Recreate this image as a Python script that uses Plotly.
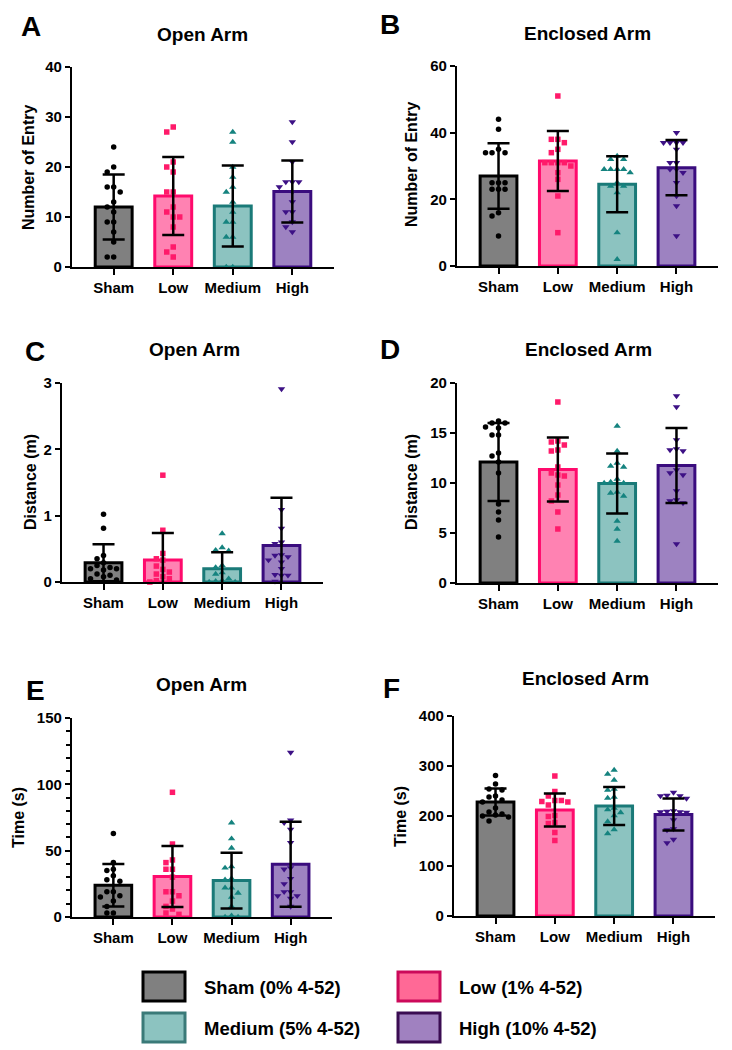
import plotly.graph_objects as go

W, H = 732, 1050
groups = ["Sham", "Low", "Medium", "High"]

# ---- Panel A: Open Arm, Number of Entry ----
a_sham = [24, 20, 19, 16, 16, 15, 13, 12, 11, 9, 9, 7, 5, 2, 2]
a_low = [28, 27, 21, 20, 19, 15, 15, 12, 11, 10, 10, 8, 4, 3, 2]
a_medium = [27, 25, 20, 18, 16, 15, 13, 11, 9, 9, 6, 6, 0, 0]
a_high = [29, 25, 21, 17, 17, 17, 16, 15, 13, 11, 11, 9, 8, 7]
a_mean = [12.0, 14.2, 12.2, 15.1]
a_sd = [6.5, 7.8, 8.1, 6.2]

# ---- Panel B: Enclosed Arm, Number of Entry ----
b_sham = [44, 41, 35, 34, 34, 34, 25, 25, 25, 23, 23, 23, 16, 15, 9]
b_low = [51, 38, 38, 37, 35, 34, 31, 31, 31, 31, 30, 28, 26, 21, 10]
b_medium = [33, 32, 32, 29, 29, 29, 29, 28, 25, 24, 24, 22, 10, 2]
b_high = [40, 37, 37, 37, 37, 35, 31, 31, 29, 29, 28, 25, 21, 18, 9]
b_mean = [27.0, 31.5, 24.5, 29.5]
b_sd = [9.8, 9.0, 8.4, 8.3]

# ---- Panel C: Open Arm, Distance (m) ----
c_sham = [1.02, 0.81, 0.40, 0.35, 0.29, 0.25, 0.22, 0.20, 0.20, 0.18, 0.12, 0.10, 0.08, 0.05, 0.03]
c_low = [1.61, 0.78, 0.43, 0.35, 0.33, 0.24, 0.19, 0.15, 0.12, 0.08, 0.05, 0.02, 0.0]
c_medium = [0.73, 0.52, 0.48, 0.47, 0.25, 0.22, 0.14, 0.12, 0.05, 0.02, 0.01, 0.0, 0.0]
c_high = [2.91, 1.09, 0.81, 0.60, 0.58, 0.41, 0.40, 0.38, 0.33, 0.30, 0.20, 0.11, 0.10, 0.10, 0.01]
c_mean = [0.29, 0.33, 0.20, 0.55]
c_sd = [0.28, 0.41, 0.25, 0.72]

# ---- Panel D: Enclosed Arm, Distance (m) ----
d_sham = [16.2, 16.0, 16.0, 15.6, 15.5, 14.8, 14.8, 13.0, 12.7, 12.1, 11.0, 7.9, 7.1, 6.3, 4.6]
d_low = [18.1, 14.2, 14.1, 13.8, 13.3, 13.2, 11.6, 11.0, 10.8, 10.7, 9.8, 8.8, 8.2, 7.1, 5.4]
d_medium = [15.7, 13.2, 12.0, 11.7, 11.6, 10.4, 10.1, 10.0, 10.0, 9.1, 9.0, 8.7, 6.2, 5.4, 4.2]
d_high = [18.7, 17.6, 14.3, 13.4, 13.3, 13.2, 11.3, 11.0, 10.8, 9.2, 8.3, 8.2, 8.0, 3.9]
d_mean = [12.1, 11.35, 9.95, 11.75]
d_sd = [3.9, 3.2, 3.0, 3.75]

# ---- Panel E: Open Arm, Time (s) ----
e_sham = [63, 41, 36, 35, 31, 28, 27, 19, 19, 16, 15, 12, 8, 3, 3]
e_low = [94, 55, 43, 41, 36, 36, 30, 19, 19, 16, 12, 8, 6, 3, 2]
e_medium = [71, 59, 52, 38, 37, 29, 28, 22, 22, 18, 15, 8, 1, 0, 0]
e_high = [124, 73, 71, 66, 56, 37, 36, 29, 25, 19, 19, 16, 16, 14, 8]
e_mean = [24.0, 30.5, 27.5, 39.8]
e_sd = [16.0, 23.0, 21.0, 32.0]

# ---- Panel F: Enclosed Arm, Time (s) ----
f_sham = [281, 264, 254, 252, 240, 238, 232, 228, 216, 208, 204, 202, 200, 198, 190]
f_low = [280, 249, 240, 231, 231, 229, 228, 222, 201, 199, 187, 185, 167, 151]
f_medium = [292, 284, 272, 254, 252, 238, 236, 216, 213, 207, 201, 189, 173, 165]
f_high = [247, 241, 240, 240, 235, 210, 209, 208, 208, 207, 192, 174, 172, 153, 146]
f_mean = [228.0, 212.0, 220.0, 203.0]
f_sd = [27.0, 33.0, 38.0, 32.0]

legend_labels = ["Sham (0% 4-52)", "Low (1% 4-52)", "Medium (5% 4-52)", "High (10% 4-52)"]

# ---- styles ----
FONT = "Liberation Sans, Arial, Helvetica, sans-serif"
FILL = ["#808080", "#ff82b2", "#8cc3c0", "#9d82c1"]
EDGE = ["#000000", "#ff0a6c", "#1a7a78", "#3a0c7e"]
MCOL = ["#000000", "#ff1a6a", "#15837f", "#3d1185"]
SYM = ["circle", "square", "triangle-up", "triangle-down"]
MSIZE = [5.5, 5.5, 6.5, 6.5]
LEG_FILL = ["#808080", "#ff6996", "#8cc3c0", "#a081c0"]
LEG_EDGE = ["#000000", "#cc0a5a", "#3a7a78", "#3a0c52"]

panels = [
    dict(letter="A", title="Open Arm", ytitle="Number of Entry",
         pts=[a_sham, a_low, a_medium, a_high], mean=a_mean, sd=a_sd,
         box=(72, 67, 334, 267), yr=40, dt=10, minor=None,
         lpos=(31, 26), tpos=(203, 35), ytpos=(28, 168)),
    dict(letter="B", title="Enclosed Arm", ytitle="Number of Entry",
         pts=[b_sham, b_low, b_medium, b_high], mean=b_mean, sd=b_sd,
         box=(457, 66, 718, 266), yr=60, dt=20, minor=None,
         lpos=(390, 24), tpos=(587, 33), ytpos=(411, 165)),
    dict(letter="C", title="Open Arm", ytitle="Distance (m)",
         pts=[c_sham, c_low, c_medium, c_high], mean=c_mean, sd=c_sd,
         box=(62, 383, 323, 582), yr=3, dt=1, minor=None,
         lpos=(35, 351), tpos=(194, 350), ytpos=(30, 482)),
    dict(letter="D", title="Enclosed Arm", ytitle="Distance (m)",
         pts=[d_sham, d_low, d_medium, d_high], mean=d_mean, sd=d_sd,
         box=(457, 383, 718, 583), yr=20, dt=5, minor=None,
         lpos=(390, 350), tpos=(588, 350), ytpos=(411, 482)),
    dict(letter="E", title="Open Arm", ytitle="Time (s)",
         pts=[e_sham, e_low, e_medium, e_high], mean=e_mean, sd=e_sd,
         box=(72, 718, 332, 917), yr=150, dt=50, minor=10,
         lpos=(35, 690), tpos=(202, 684), ytpos=(18, 818)),
    dict(letter="F", title="Enclosed Arm", ytitle="Time (s)",
         pts=[f_sham, f_low, f_medium, f_high], mean=f_mean, sd=f_sd,
         box=(454, 716, 715, 916), yr=400, dt=100, minor=None,
         lpos=(391, 688), tpos=(585, 679), ytpos=(400, 817)),
]

XR = (-0.7, 3.7)


def swarm(vals, xs, ys, d=6.5):
    """Horizontal offsets (in data units) so markers do not overlap."""
    placed = []
    order = sorted(range(len(vals)), key=lambda i: -vals[i])
    res = [0.0] * len(vals)
    cand_list = [0]
    for j in range(1, 12):
        cand_list += [-j, j]
    for i in order:
        py = vals[i] * ys
        for c in cand_list:
            px = c * d
            ok = True
            for (qx, qy) in placed:
                if abs(qx - px) < d and abs(qy - py) < d:
                    ok = False
                    break
            if ok:
                placed.append((px, py))
                res[i] = px / xs
                break
    return res


def px2paper(x, y):
    return x / W, 1 - y / H


fig = go.Figure()
layout = dict(
    width=W, height=H, margin=dict(l=0, r=0, t=0, b=0, autoexpand=False),
    paper_bgcolor="white", plot_bgcolor="white", showlegend=False,
    font=dict(family=FONT, color="black"),
)
annotations = []
shapes = []

for i, p in enumerate(panels):
    n = i + 1
    sfx = "" if n == 1 else str(n)
    xa, ya = "x" + sfx, "y" + sfx
    x0, y0, x1, y1 = p["box"]
    xs = (x1 - x0) / (XR[1] - XR[0])
    ys = (y1 - y0) / p["yr"]

    fig.add_trace(go.Bar(
        x=[0, 1, 2, 3], y=p["mean"], width=0.62,
        marker=dict(color=FILL, line=dict(color=EDGE, width=3)),
        xaxis=xa, yaxis=ya, hoverinfo="skip"))

    for g in range(4):
        vals = p["pts"][g]
        offs = swarm(vals, xs, ys)
        fig.add_trace(go.Scatter(
            x=[g + o for o in offs], y=vals, mode="markers",
            marker=dict(symbol=SYM[g], size=MSIZE[g], color=MCOL[g], line=dict(width=0)),
            xaxis=xa, yaxis=ya, hoverinfo="skip", cliponaxis=False))

    fig.add_trace(go.Scatter(
        x=[0, 1, 2, 3], y=p["mean"], mode="markers",
        marker=dict(size=1, opacity=0),
        error_y=dict(type="data", array=p["sd"], symmetric=True,
                     color="black", thickness=2.5, width=11),
        xaxis=xa, yaxis=ya, hoverinfo="skip"))

    layout["xaxis" + sfx] = dict(
        domain=[x0 / W, x1 / W], anchor=ya, range=list(XR), automargin=False,
        tickmode="array", tickvals=[0, 1, 2, 3], ticktext=groups,
        ticks="outside", ticklen=6, tickwidth=2, tickcolor="black",
        showline=True, linecolor="black", linewidth=2.2,
        showgrid=False, zeroline=False,
        tickfont=dict(family=FONT, size=15, color="black", weight="bold"),
        fixedrange=True)
    yax = dict(
        domain=[1 - y1 / H, 1 - y0 / H], anchor=xa, range=[0, p["yr"]], automargin=False,
        tickmode="linear", tick0=0, dtick=p["dt"],
        ticks="outside", ticklen=5, tickwidth=2, tickcolor="black",
        showline=True, linecolor="black", linewidth=2.2,
        showgrid=False, zeroline=False,
        tickfont=dict(family=FONT, size=15, color="black", weight="bold"),
        fixedrange=True)
    if p["minor"]:
        yax["minor"] = dict(dtick=p["minor"], ticks="outside", ticklen=4,
                            tickwidth=2, tickcolor="black", showgrid=False)
    layout["yaxis" + sfx] = yax

    lx, ly = px2paper(*p["lpos"])
    annotations.append(dict(text=p["letter"], x=lx, y=ly, xref="paper", yref="paper",
                            xanchor="center", yanchor="middle", showarrow=False,
                            font=dict(family=FONT, size=28, color="black", weight="bold")))
    tx, ty = px2paper(*p["tpos"])
    annotations.append(dict(text=p["title"], x=tx, y=ty, xref="paper", yref="paper",
                            xanchor="center", yanchor="middle", showarrow=False,
                            font=dict(family=FONT, size=19, color="black", weight="bold")))
    atx, aty = px2paper(*p["ytpos"])
    annotations.append(dict(text=p["ytitle"], x=atx, y=aty, xref="paper", yref="paper",
                            xanchor="center", yanchor="middle", showarrow=False, textangle=-90,
                            font=dict(family=FONT, size=16, color="black", weight="bold")))

# ---- legend drawn as boxes + labels ----
leg_boxes = [(143, 972), (398, 972), (143, 1013), (398, 1013)]
for k in range(4):
    bx, by = leg_boxes[k]
    shapes.append(dict(type="rect", xref="paper", yref="paper",
                       x0=bx / W, x1=(bx + 42) / W, y0=1 - (by + 29) / H, y1=1 - by / H,
                       fillcolor=LEG_FILL[k], line=dict(color=LEG_EDGE[k], width=3)))
    lx, ly = px2paper(bx + 59, by + 15)
    annotations.append(dict(text=legend_labels[k], x=lx, y=ly, xref="paper", yref="paper",
                            xanchor="left", yanchor="middle", showarrow=False,
                            font=dict(family=FONT, size=18.5, color="black", weight="bold")))

layout["annotations"] = annotations
layout["shapes"] = shapes
fig.update_layout(**layout)
fig.write_html(
    "out.html",
    config={"displayModeBar": False},
    post_script="document.body.style.margin='0';document.body.style.padding='0';"
                "document.documentElement.style.margin='0';",
)
